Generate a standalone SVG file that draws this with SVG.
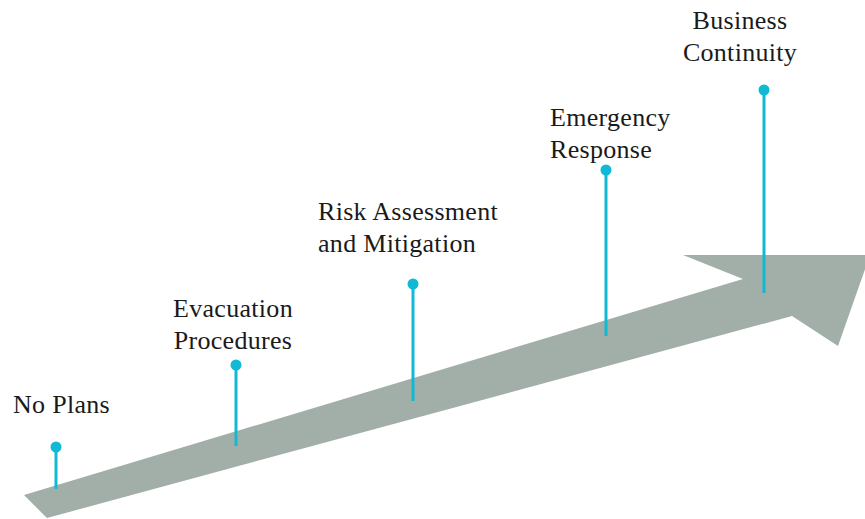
<svg xmlns="http://www.w3.org/2000/svg" width="865" height="519" viewBox="0 0 865 519">
  <style>
    .lbl { font-family: "Liberation Serif", "Times New Roman", serif; font-size: 26px; letter-spacing: 0.3px; fill: #1a1a1a; }
    .stem { stroke: #10BAD5; stroke-width: 3; fill: none; }
    .dot { fill: #10BAD5; }
  </style>
  <rect width="865" height="519" fill="#ffffff"/>
  <g id="arrow">
    <polygon points="24,495 743,279 683,255 870,255 838,346 792,316 47,518" fill="#A2AEA8"/>
  </g>
  <g id="connectors">
    <line class="stem" x1="56" y1="447" x2="56" y2="489"/>
    <line class="stem" x1="236" y1="365" x2="236" y2="446"/>
    <line class="stem" x1="413" y1="284" x2="413" y2="401"/>
    <line class="stem" x1="606" y1="170" x2="606" y2="336"/>
    <line class="stem" x1="764" y1="90" x2="764" y2="293"/>
  </g>
  <g id="no-plans">
    <circle class="dot" cx="56" cy="447" r="5.5"/>
    <text class="lbl" x="13" y="413">No Plans</text>
  </g>
  <g id="evacuation-procedures">
    <circle class="dot" cx="236" cy="365" r="5.5"/>
    <text class="lbl" x="233" y="317" text-anchor="middle">Evacuation</text>
    <text class="lbl" x="233" y="349" text-anchor="middle">Procedures</text>
  </g>
  <g id="risk-assessment">
    <circle class="dot" cx="413" cy="284" r="5.5"/>
    <text class="lbl" x="318" y="220">Risk Assessment</text>
    <text class="lbl" x="318" y="252">and Mitigation</text>
  </g>
  <g id="emergency-response">
    <circle class="dot" cx="606" cy="170" r="5.5"/>
    <text class="lbl" x="550" y="126">Emergency</text>
    <text class="lbl" x="550" y="158">Response</text>
  </g>
  <g id="business-continuity">
    <circle class="dot" cx="764" cy="90" r="5.5"/>
    <text class="lbl" x="740" y="29" text-anchor="middle">Business</text>
    <text class="lbl" x="740" y="61" text-anchor="middle">Continuity</text>
  </g>
</svg>
